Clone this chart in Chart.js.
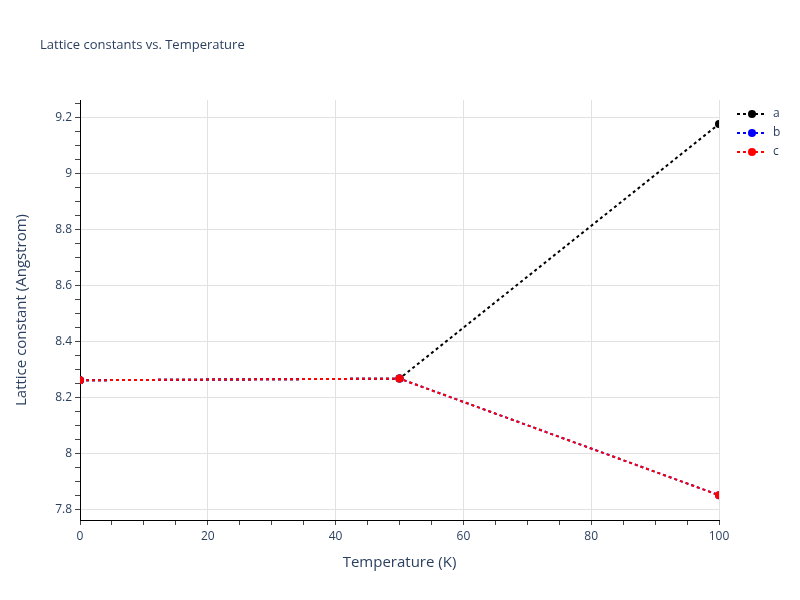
<!DOCTYPE html>
<html>
<head>
<meta charset="utf-8">
<script src="https://cdn.jsdelivr.net/npm/chart.js@4"></script>
<style>
  html, body { margin: 0; padding: 0; background: #fff; }
</style>
</head>
<body>
<canvas id="lattice" width="800" height="600"></canvas>
<script>
const temperatures = [0, 50, 100];
const latticeA = [8.261, 8.267, 9.178];
const latticeB = [8.261, 8.267, 7.850];
const latticeC = [8.261, 8.267, 7.850];
const seriesNames = ['a', 'b', 'c'];
const seriesColors = ['#000000', '#0000ff', '#ff0000'];

const FONT = '"Open Sans", "Liberation Sans", sans-serif';
const TEXT = '#2a3f5f';

function toPoints(ys) {
  return temperatures.map((t, i) => ({ x: t, y: ys[i] }));
}

// title + plotly-style legend, drawn by hand
const decorations = {
  id: 'decorations',
  afterDraw(chart) {
    const ctx = chart.ctx;
    ctx.save();
    ctx.fillStyle = TEXT;
    ctx.font = '13px ' + FONT;
    ctx.textBaseline = 'middle';
    ctx.textAlign = 'left';
    ctx.fillText('Lattice constants vs. Temperature', 40, 45);

    ctx.font = '12px ' + FONT;
    chart.data.datasets.forEach((ds, i) => {
      const y = 114 + i * 19;
      ctx.strokeStyle = ds.borderColor;
      ctx.lineWidth = 2;
      ctx.setLineDash([3, 3]);
      ctx.beginPath();
      ctx.moveTo(737, y);
      ctx.lineTo(767, y);
      ctx.stroke();
      ctx.setLineDash([]);
      ctx.fillStyle = ds.borderColor;
      ctx.beginPath();
      ctx.arc(752, y, 4, 0, Math.PI * 2);
      ctx.fill();
      ctx.fillStyle = TEXT;
      ctx.fillText(ds.label, 773, y);
    });
    ctx.restore();
  }
};

new Chart(document.getElementById('lattice'), {
  type: 'line',
  data: {
    // later series drawn on top (c over b over a)
    datasets: [latticeA, latticeB, latticeC].map((ys, i) => ({
      label: seriesNames[i],
      data: toPoints(ys),
      order: 3 - i,
      borderColor: seriesColors[i],
      backgroundColor: seriesColors[i],
      borderWidth: 2,
      borderDash: [3, 3],
      pointRadius: 4,
      pointHoverRadius: 4,
      pointBorderWidth: 0,
      clip: 0
    }))
  },
  plugins: [decorations],
  options: {
    responsive: false,
    animation: false,
    layout: { padding: { top: 100, right: 81, left: 0, bottom: 0 } },
    plugins: {
      legend: { display: false },
      title: { display: false },
      tooltip: { enabled: false }
    },
    scales: {
      x: {
        type: 'linear',
        min: 0,
        max: 100,
        afterFit(scale) { scale.height = 80; },
        afterBuildTicks(scale) {
          const t = [];
          for (let v = 0; v <= 100; v += 5) t.push({ value: v });
          scale.ticks = t;
        },
        ticks: {
          autoSkip: false,
          maxRotation: 0,
          padding: 4,
          color: TEXT,
          font: { family: FONT, size: 12 },
          callback: v => (v % 20 === 0 ? String(v) : '')
        },
        grid: {
          color: c => (c.tick && c.tick.value % 20 === 0 ? '#e2e2e2' : 'rgba(0,0,0,0)'),
          tickColor: '#444',
          tickLength: 5,
          lineWidth: 1
        },
        border: { display: true, color: '#000', width: 1 },
        title: {
          display: true,
          text: 'Temperature (K)',
          color: TEXT,
          font: { family: FONT, size: 15 },
          padding: { top: 0, bottom: 28 }
        }
      },
      y: {
        type: 'linear',
        min: 7.761,
        max: 9.264,
        afterFit(scale) { scale.width = 80; },
        afterBuildTicks(scale) {
          const t = [];
          for (let k = 156; k <= 185; k++) t.push({ value: k / 20 });
          scale.ticks = t;
        },
        ticks: {
          autoSkip: false,
          padding: 3,
          color: TEXT,
          font: { family: FONT, size: 12 },
          callback: v => (Math.round(v * 20) % 4 === 0 ? String(Math.round(v * 10) / 10) : '')
        },
        grid: {
          color: c => (c.tick && Math.round(c.tick.value * 20) % 4 === 0 ? '#e2e2e2' : 'rgba(0,0,0,0)'),
          tickColor: '#444',
          tickLength: 5,
          lineWidth: 1
        },
        border: { display: true, color: '#000', width: 1 },
        title: {
          display: true,
          text: 'Lattice constant (Angstrom)',
          color: TEXT,
          font: { family: FONT, size: 15 },
          padding: { top: 13, bottom: 0 }
        }
      }
    }
  }
});
</script>
</body>
</html>
